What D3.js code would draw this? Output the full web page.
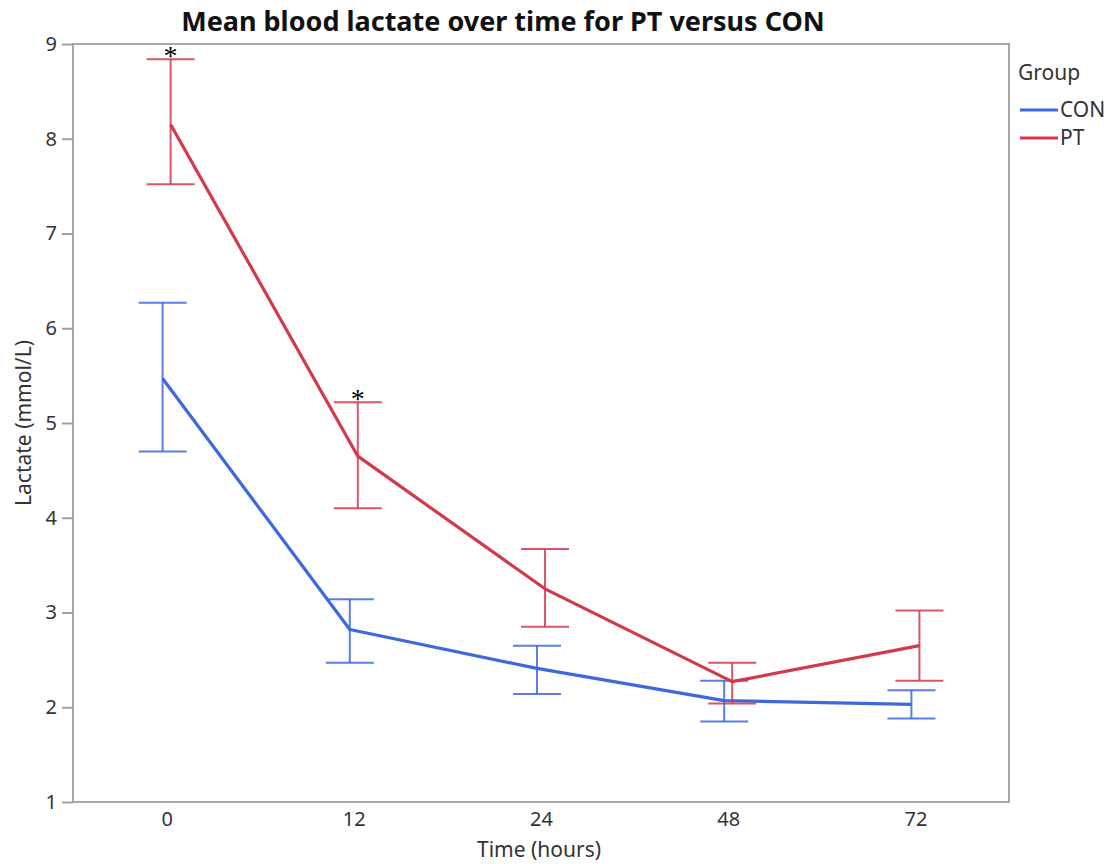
<!DOCTYPE html>
<html>
<head>
<meta charset="utf-8">
<script src="https://cdn.jsdelivr.net/npm/d3@7"></script>
<style>
  body { margin: 0; background: #fff; }
  svg text { font-family: 'Noto Sans', 'Open Sans', sans-serif; }
  .axis path, .axis line { stroke: #a0a0a0; stroke-width: 2; }
  .axis text { fill: #333; font-size: 20px; }
</style>
</head>
<body>
<div id="chart"></div>
<script>
// time points (hours)
const times = ['0', '12', '24', '48', '72'];
const groups = ['CON', 'PT'];

// CON: mean, lower, upper
const conMean  = [5.47, 2.82, 2.41, 2.07, 2.03];
const conLower = [4.70, 2.47, 2.14, 1.85, 1.88];
const conUpper = [6.27, 3.14, 2.65, 2.28, 2.18];

// PT: mean, lower, upper
const ptMean  = [8.15, 4.65, 3.25, 2.27, 2.65];
const ptLower = [7.52, 4.10, 2.85, 2.04, 2.28];
const ptUpper = [8.84, 5.22, 3.67, 2.47, 3.02];

// significance marks (PT vs CON)
const sigTimes = ['0', '12'];

const yTicks = [1, 2, 3, 4, 5, 6, 7, 8, 9];

const width = 1118, height = 864;
const margin = { top: 44, right: 109, bottom: 62, left: 73 };
const w = width - margin.left - margin.right;
const h = height - margin.top - margin.bottom;

const colors = { CON: '#3e68dc', PT: '#d23a4c' };
const offsets = { CON: -4, PT: 4 };

const series = [
  { name: 'CON', mean: conMean, lower: conLower, upper: conUpper },
  { name: 'PT', mean: ptMean, lower: ptLower, upper: ptUpper }
];

let svg = d3.select('#chart').append('svg')
  .attr('width', width)
  .attr('height', height);

let chart = svg.append('g')
  .attr('transform', `translate(${margin.left}, ${margin.top})`);

// scales
const xScale = d3.scalePoint().domain(times).range([0, w]).padding(0.5);
const yScale = d3.scaleLinear().domain([1, 9]).range([h, 0]);

// frame
chart.append('rect')
  .attr('x', 0).attr('y', 0)
  .attr('width', w).attr('height', h)
  .attr('fill', 'none')
  .attr('stroke', '#a8a8a8')
  .attr('stroke-width', 2);

// axes
chart.append('g').attr('class', 'axis axis-x')
  .attr('transform', `translate(0, ${h})`)
  .call(d3.axisBottom(xScale).tickSize(0).tickPadding(10))
  .call(g => g.select('.domain').remove());

chart.append('g').attr('class', 'axis axis-y')
  .call(d3.axisLeft(yScale).tickValues(yTicks).tickFormat(d3.format('d')).tickSize(11).tickPadding(5))
  .call(g => g.select('.domain').remove());

// lines + error bars
const line = (s) => d3.line()
  .x((d, i) => xScale(times[i]) + offsets[s.name])
  .y(d => yScale(d));

series.forEach(s => {
  let g = chart.append('g').attr('class', 'series-' + s.name);
  const c = colors[s.name];

  // error bars
  times.forEach((t, i) => {
    const x = xScale(t) + offsets[s.name];
    g.append('line')
      .attr('x1', x).attr('x2', x)
      .attr('y1', yScale(s.lower[i])).attr('y2', yScale(s.upper[i]))
      .attr('stroke', c).attr('stroke-width', 2).attr('opacity', 0.85);
    [s.lower[i], s.upper[i]].forEach(v => {
      g.append('line')
        .attr('x1', x - 24).attr('x2', x + 24)
        .attr('y1', yScale(v)).attr('y2', yScale(v))
        .attr('stroke', c).attr('stroke-width', 2).attr('opacity', 0.85);
    });
  });

  g.append('path')
    .datum(s.mean)
    .attr('d', line(s))
    .attr('fill', 'none')
    .attr('stroke', c)
    .attr('stroke-width', 3.2)
    .attr('stroke-linejoin', 'round');
});

// asterisks
sigTimes.forEach(t => {
  const i = times.indexOf(t);
  chart.append('text')
    .attr('x', xScale(t) + offsets.PT)
    .attr('y', yScale(ptUpper[i]) + 6)
    .attr('text-anchor', 'middle')
    .style('font-family', "'Liberation Serif', 'DejaVu Serif', serif")
    .style('font-size', '28px')
    .attr('fill', '#000')
    .text('*');
});

// title
svg.append('text')
  .attr('x', 503).attr('y', 31)
  .attr('text-anchor', 'middle')
  .style('font-size', '27px')
  .style('font-weight', 'bold')
  .attr('fill', '#111')
  .text('Mean blood lactate over time for PT versus CON');

// axis titles
svg.append('text')
  .attr('x', margin.left + w / 2 - 2).attr('y', 857)
  .attr('text-anchor', 'middle')
  .style('font-size', '21px')
  .attr('fill', '#333')
  .text('Time (hours)');

svg.append('text')
  .attr('transform', `translate(31, ${margin.top + h / 2}) rotate(-90)`)
  .attr('text-anchor', 'middle')
  .style('font-size', '21px')
  .attr('fill', '#333')
  .text('Lactate (mmol/L)');

// legend
let legend = svg.append('g').attr('transform', 'translate(1018, 0)');
legend.append('text')
  .attr('x', 0).attr('y', 80)
  .style('font-size', '21px')
  .attr('fill', '#333')
  .text('Group');

groups.forEach((gname, i) => {
  const y = 110 + i * 28;
  legend.append('line')
    .attr('x1', 2).attr('x2', 40)
    .attr('y1', y).attr('y2', y)
    .attr('stroke', colors[gname]).attr('stroke-width', 3);
  legend.append('text')
    .attr('x', 42).attr('y', y + 7)
    .style('font-size', '21px')
    .attr('fill', '#333')
    .text(gname);
});
</script>
</body>
</html>
